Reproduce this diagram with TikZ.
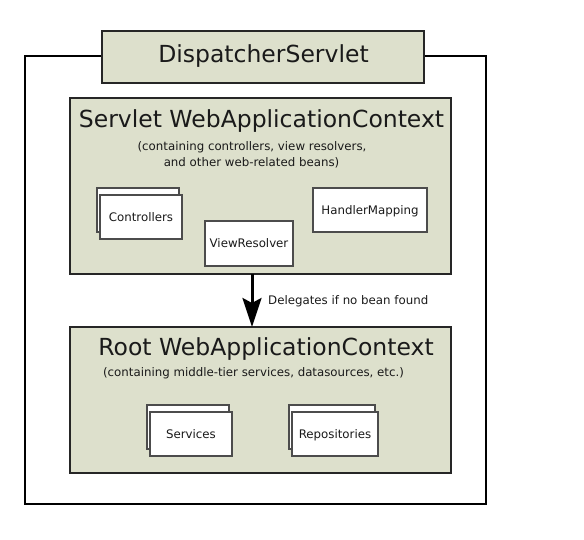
\documentclass[tikz,border=0pt]{standalone}
\usepackage{fontspec}
\setmainfont{DejaVu Sans}
\usetikzlibrary{arrows.meta}
\definecolor{ctxfill}{RGB}{221,224,204}
\definecolor{ink}{RGB}{26,26,26}
\begin{document}
\begin{tikzpicture}[x=1pt,y=-1pt,
  frame/.style={draw=black, line width=2pt, inner sep=0pt, outer sep=0pt},
  ctx/.style={draw=black!85, fill=ctxfill, line width=1.6pt, inner sep=0pt, outer sep=0pt},
  bean/.style={draw=black!70, fill=white, line width=1.2pt, inner sep=0pt, outer sep=0pt,
    minimum height=44pt, text height=8.6pt, text depth=0pt, text=ink,
    font=\fontsize{11.8}{14}\selectfont},
  big/.style={text=ink, inner sep=0pt, font=\fontsize{23.5}{28}\selectfont},
  small/.style={text=ink, inner sep=0pt, font=\fontsize{11.8}{14}\selectfont}]
\useasboundingbox (0,0) rectangle (584,540);
% outer frame
\node[frame, minimum width=461pt, minimum height=448pt, anchor=north west] (outer) at (25,56) {};
% DispatcherServlet box
\node[ctx, minimum width=322pt, minimum height=52pt, anchor=north west] (ds) at (102,31) {};
\node[big, anchor=base] (dstext) at (263.5,63) {DispatcherServlet};
% Servlet WebApplicationContext
\node[ctx, minimum width=381pt, minimum height=176pt, anchor=north west] (swac) at (70,98) {};
\node[big, anchor=base] (swactitle) at (261.5,128) {Servlet WebApplicationContext};
\node[small, anchor=base] (swacsub1) at (252,150.5) {(containing controllers, view resolvers,};
\node[small, anchor=base] (swacsub2) at (251.5,166.5) {and other web-related beans)};
\node[bean, minimum width=82pt, anchor=north west] (ctrlback) at (97,188) {};
\node[bean, minimum width=82pt, anchor=north west] (ctrl) at (100,195) {Controllers};
\node[bean, minimum width=88pt, minimum height=45pt, anchor=north west] (vr) at (205,221) {ViewResolver};
\node[bean, minimum width=114pt, anchor=north west] (hm) at (313,188) {HandlerMapping};
% Root WebApplicationContext
\node[ctx, minimum width=381pt, minimum height=146pt, anchor=north west] (root) at (70,327) {};
\node[big, anchor=base] (roottitle) at (266,355) {Root WebApplicationContext};
\node[small, anchor=base] (rootsub) at (253.5,376.5) {(containing middle-tier services, datasources, etc.)};
\node[bean, minimum width=82pt, anchor=north west] (svcback) at (147,405) {};
\node[bean, minimum width=82pt, anchor=north west] (svc) at (150,412) {Services};
\node[bean, minimum width=86pt, anchor=north west] (repoback) at (289,405) {};
\node[bean, minimum width=86pt, anchor=north west] (repo) at (292,412) {Repositories};
% delegation arrow
\coordinate (ax) at (252,0);
\draw[line width=3pt, black, -{Stealth[length=29pt,width=19pt,inset=5pt]}]
  (swac.south -| ax) -- (root.north -| ax);
\node[small, anchor=base west] (deleg) at (268,305) {Delegates if no bean found};
\end{tikzpicture}
\end{document}
